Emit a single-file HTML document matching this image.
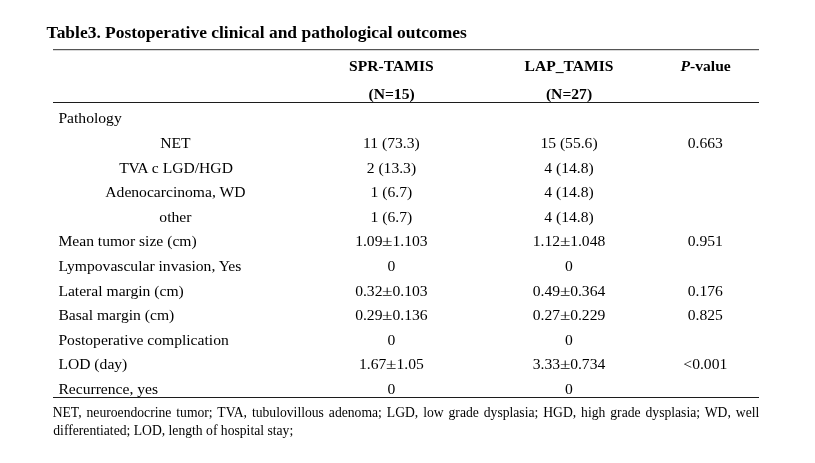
<!DOCTYPE html>
<html lang="en">
<head>
<meta charset="utf-8">
<title>Table3. Postoperative clinical and pathological outcomes</title>
<style>
html,body{margin:0;padding:0;background:#fff;}
body{width:815px;height:463px;position:relative;overflow:hidden;font-family:"Liberation Serif",serif;color:#000;}
#pg{position:absolute;left:0;top:0;width:815px;height:463px;will-change:transform;}
.t{position:absolute;white-space:nowrap;line-height:20px;}
.c{width:240px;text-align:center;}
.b{font-weight:bold;}
.pm{display:inline-block;transform:scaleX(1.22);margin:0 0.75px;}
.ln{position:absolute;left:53px;width:706px;height:1px;}
.fn{position:absolute;left:53.3px;width:705.2px;font-size:13.65px;line-height:20px;white-space:nowrap;}
.j{text-align:justify;text-align-last:justify;white-space:normal;}
</style>
</head>
<body>
<div id="pg">
<div class="t b" style="left:46.60px;top:22px;font-size:17.47px">Table3. Postoperative clinical and pathological outcomes</div>
<div class="t c b" style="left:271.40px;top:56px;font-size:15.62px">SPR-TAMIS</div>
<div class="t c b" style="left:271.60px;top:84px;font-size:15.62px">(N=15)</div>
<div class="t c b" style="left:449.00px;top:56px;font-size:15.62px">LAP_TAMIS</div>
<div class="t c b" style="left:449.00px;top:84px;font-size:15.62px">(N=27)</div>
<div class="t c b" style="left:585.60px;top:56px;font-size:15.62px"><i>P</i>-value</div>
<div class="t" style="left:58.40px;top:108px;font-size:15.62px">Pathology</div>
<div class="t c" style="left:55.40px;top:133px;font-size:15.62px">NET</div>
<div class="t c" style="left:271.40px;top:133px;font-size:15.62px">11 (73.3)</div>
<div class="t c" style="left:449.00px;top:133px;font-size:15.62px">15 (55.6)</div>
<div class="t c" style="left:585.30px;top:133px;font-size:15.62px">0.663</div>
<div class="t c" style="left:56.15px;top:158px;font-size:15.62px"><span style="letter-spacing:-0.5px">TVA</span> c LGD/HGD</div>
<div class="t c" style="left:271.40px;top:158px;font-size:15.62px">2 (13.3)</div>
<div class="t c" style="left:449.00px;top:158px;font-size:15.62px">4 (14.8)</div>
<div class="t c" style="left:55.40px;top:182px;font-size:15.62px">Adenocarcinoma, WD</div>
<div class="t c" style="left:271.40px;top:182px;font-size:15.62px">1 (6.7)</div>
<div class="t c" style="left:449.00px;top:182px;font-size:15.62px">4 (14.8)</div>
<div class="t c" style="left:55.40px;top:207px;font-size:15.62px">other</div>
<div class="t c" style="left:271.40px;top:207px;font-size:15.62px">1 (6.7)</div>
<div class="t c" style="left:449.00px;top:207px;font-size:15.62px">4 (14.8)</div>
<div class="t" style="left:58.40px;top:231px;font-size:15.62px">Mean tumor size (cm)</div>
<div class="t c" style="left:271.40px;top:231px;font-size:15.62px">1.09<span class="pm">±</span>1.103</div>
<div class="t c" style="left:449.00px;top:231px;font-size:15.62px">1.12<span class="pm">±</span>1.048</div>
<div class="t c" style="left:585.30px;top:231px;font-size:15.62px">0.951</div>
<div class="t" style="left:58.40px;top:256px;font-size:15.62px">Lympovascular invasion, Yes</div>
<div class="t c" style="left:271.40px;top:256px;font-size:15.62px">0</div>
<div class="t c" style="left:449.00px;top:256px;font-size:15.62px">0</div>
<div class="t" style="left:58.40px;top:281px;font-size:15.62px">Lateral margin (cm)</div>
<div class="t c" style="left:271.40px;top:281px;font-size:15.62px">0.32<span class="pm">±</span>0.103</div>
<div class="t c" style="left:449.00px;top:281px;font-size:15.62px">0.49<span class="pm">±</span>0.364</div>
<div class="t c" style="left:585.30px;top:281px;font-size:15.62px">0.176</div>
<div class="t" style="left:58.40px;top:305px;font-size:15.62px">Basal margin (cm)</div>
<div class="t c" style="left:271.40px;top:305px;font-size:15.62px">0.29<span class="pm">±</span>0.136</div>
<div class="t c" style="left:449.00px;top:305px;font-size:15.62px">0.27<span class="pm">±</span>0.229</div>
<div class="t c" style="left:585.30px;top:305px;font-size:15.62px">0.825</div>
<div class="t" style="left:58.40px;top:330px;font-size:15.62px">Postoperative complication</div>
<div class="t c" style="left:271.40px;top:330px;font-size:15.62px">0</div>
<div class="t c" style="left:449.00px;top:330px;font-size:15.62px">0</div>
<div class="t" style="left:58.40px;top:354px;font-size:15.62px">LOD (day)</div>
<div class="t c" style="left:271.40px;top:354px;font-size:15.62px">1.67<span class="pm">±</span>1.05</div>
<div class="t c" style="left:449.00px;top:354px;font-size:15.62px">3.33<span class="pm">±</span>0.734</div>
<div class="t c" style="left:585.30px;top:354px;font-size:15.62px">&lt;0.001</div>
<div class="t" style="left:58.40px;top:379px;font-size:15.62px">Recurrence, yes</div>
<div class="t c" style="left:271.40px;top:379px;font-size:15.62px">0</div>
<div class="t c" style="left:449.00px;top:379px;font-size:15.62px">0</div>
<div class="ln" style="top:49px;background:#555"></div>
<div class="ln" style="top:50px;background:#d8d8d8"></div>
<div class="ln" style="top:102px;background:#1c1c1c"></div>
<div class="ln" style="top:397px;background:#1c1c1c"></div>
<div class="fn j" style="left:52.7px;width:706.6px;top:403px">NET, neuroendocrine tumor; TVA, tubulovillous adenoma; LGD, low grade dysplasia; HGD, high grade dysplasia; WD, well</div>
<div class="fn" style="top:421px">differentiated; LOD, length of hospital stay;</div>
</div>
</body>
</html>
